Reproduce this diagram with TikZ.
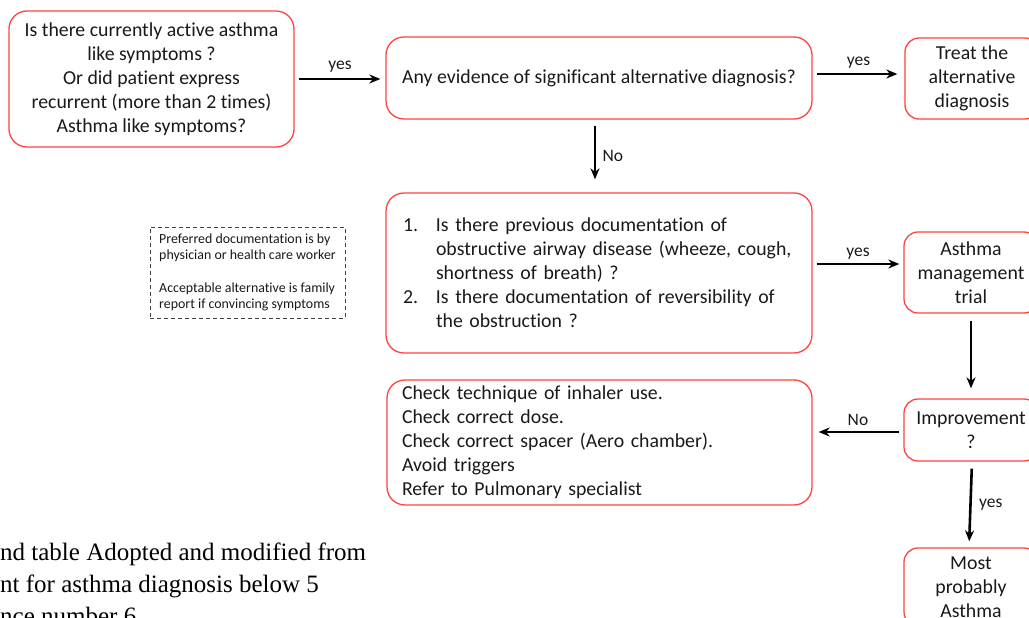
\documentclass[tikz,border=0pt]{standalone}
\usepackage{fontspec}
\setmainfont{Carlito}[Ligatures=NoCommon]
\newfontfamily\notefont{Liberation Serif}
\usetikzlibrary{arrows.meta,positioning}
\definecolor{boxred}{HTML}{FF4444}

\begin{document}
\begin{tikzpicture}[x=1pt,y=1pt,
  flowbox/.style={draw=boxred, line width=1.3pt, rounded corners=18pt, align=center,
    inner sep=0pt, font=\fontsize{19.8}{24}\selectfont, text=black!90},
  sidebox/.style={flowbox, rounded corners=14pt, minimum width=134pt},
  flowarrow/.style={-{Stealth[length=11pt,width=9pt]}, line width=2.6pt},
  edgelabel/.style={font=\fontsize{17.5}{20}\selectfont, text=black!90}]
  \useasboundingbox (0,0) rectangle (1029,-618);
  \clip (0,0) rectangle (1029,-618);

  % Main column
  \node[flowbox, minimum width=285pt, minimum height=136pt] (active) at (151.5,-79)
    {Is there currently active asthma\\like symptoms ?\\Or did patient express\\recurrent (more than 2 times)\\Asthma like symptoms?};
  \node[flowbox, minimum width=426pt, minimum height=82pt] (evidence) at (599,-78)
    {Any evidence of significant alternative diagnosis?};
  \node[flowbox, align=left, text width=392pt, inner xsep=17pt, minimum height=160pt] (docs) at (599,-273)
    {\makebox[33pt][l]{1.}Is there previous documentation of\\
     \hspace*{33pt}obstructive airway disease (wheeze, cough,\\
     \hspace*{33pt}shortness of breath) ?\\
     \makebox[33pt][l]{2.}Is there documentation of reversibility of\\
     \hspace*{33pt}the obstruction ?};
  \node[flowbox, align=left, text width=395pt, inner xsep=15pt, minimum height=125pt] (check) at (599.5,-442.5)
    {Check technique of inhaler use.\\Check correct dose.\\Check correct spacer (Aero chamber).\\Avoid triggers\\Refer to Pulmonary specialist};

  % Right column
  \node[sidebox, minimum height=81pt] (treat) at (972,-78.5) {Treat the\\alternative\\diagnosis};
  \node[sidebox, minimum height=81pt] (trial) at (971,-272.5) {Asthma\\management\\trial};
  \node[sidebox, minimum height=62pt] (improve) at (971,-430) {Improvement\\?};
  \node[sidebox, minimum height=78pt] (likely) at (971,-587) {Most\\probably\\Asthma};

  % Note box
  \node[draw=black!75, dashed, dash pattern=on 4pt off 3pt, line width=1pt, align=left,
    minimum width=195pt, minimum height=91pt, font=\fontsize{13.9}{16.5}\selectfont, text=black!90] (note) at (247.5,-272.5)
    {Preferred documentation is by\\physician or health care worker\\[16pt]Acceptable alternative is family\\report if convincing symptoms};

  % Source text
  \node[anchor=north west, align=left, inner sep=0pt, font=\notefont\fontsize{25}{32}\selectfont] (source) at (0,-542.5)
    {nd table Adopted and modified from\\nt for asthma diagnosis below 5\\nce number 6};

  % Connectors
  \draw[flowarrow, shorten <=4pt, shorten >=5pt] (active.east) -- node[above, edgelabel, yshift=2pt] {yes} (active.east -| evidence.west);
  \draw[flowarrow, shorten <=4pt, shorten >=7pt] ([yshift=4pt]evidence.east) -- node[above, edgelabel, yshift=1pt] {yes} ([yshift=4pt]evidence.east -| treat.west);
  \draw[flowarrow, shorten <=6pt, shorten >=13pt] ([xshift=-4pt]evidence.south) -- node[right, edgelabel, xshift=3pt] {No} ([xshift=-4pt]evidence.south |- docs.north);
  \draw[flowarrow, shorten <=4pt, shorten >=4pt] ([yshift=9pt]docs.east) -- node[above, edgelabel] {yes} ([yshift=9pt]docs.east -| trial.west);
  \draw[flowarrow, shorten <=7pt, shorten >=10pt] (trial.south) -- (improve.north);
  \draw[flowarrow, shorten <=4pt, shorten >=6pt] ([yshift=-2pt]improve.west) -- node[above, edgelabel, yshift=2pt] {No} ([yshift=-2pt]improve.west -| check.east);
  \draw[flowarrow, shorten <=7pt, shorten >=6pt] ([xshift=1pt]improve.south) -- node[right, edgelabel, xshift=4pt] {yes} ([xshift=-2pt]likely.north);
\end{tikzpicture}
\end{document}
